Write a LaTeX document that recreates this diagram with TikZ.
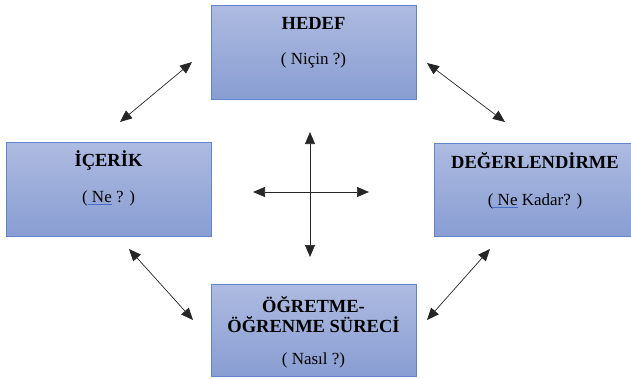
\documentclass[tikz,border=0pt]{standalone}
\usepackage{fontspec}
\setmainfont{Liberation Serif}
\usetikzlibrary{arrows.meta}
\definecolor{boxtop}{RGB}{174,187,225}
\definecolor{boxbot}{RGB}{136,157,210}
\definecolor{boxline}{RGB}{96,132,206}
\definecolor{ulblue}{RGB}{70,110,200}
% blue spell-check style underline
\newcommand\blueul[1]{\setbox0\hbox{#1}\rlap{\color{ulblue}\rule[-3pt]{\wd0}{0.9pt}}\box0\relax}
\begin{document}
\begin{tikzpicture}[x=1pt,y=-1pt,
  stage/.style={draw=boxline, line width=0.8pt, top color=boxtop, bottom color=boxbot,
    inner sep=0pt},
  title/.style={font=\fontsize{18.5}{20}\selectfont\bfseries, align=center, inner sep=0pt},
  sub/.style={font=\fontsize{17}{19}\selectfont, inner sep=0pt},
  link/.style={{Triangle[length=12pt,width=10pt]}-{Triangle[length=12pt,width=10pt]},
    line width=0.7pt, draw=black!85}]
\useasboundingbox (0,0) rectangle (631,378);

% the four stages
\node[stage, minimum width=205pt, minimum height=94pt] (hedef)  at (313.5,52)  {};
\node[stage, minimum width=205pt, minimum height=94pt] (icerik) at (108.5,189) {};
\node[stage, minimum width=202pt, minimum height=93pt] (deger)  at (535,189.5) {};
\node[stage, minimum width=205pt, minimum height=92pt] (surec)  at (313.5,330) {};

% stage texts
\node[title] (hedefT) at (313.5,23.5) {HEDEF};
\node[sub]   (hedefS) at (313.5,60) {( Niçin ?)};
\node[title] (icerikT) at (108.5,160) {İÇERİK};
\node[sub]   (icerikS) at (108.5,198) {(\blueul{ Ne} ? )};
\node[title] (degerT) at (535,161) {DEĞERLENDİRME};
\node[sub]   (degerS) at (535,201) {(\blueul{ Ne} Kadar? )};
\node[title] (surecT) at (313.5,315) {ÖĞRETME-\\ÖĞRENME SÜRECİ};
\node[sub]   (surecS) at (313.5,360) {( Nasıl ?)};

% arrow end points
\coordinate (a1s) at (120,122); \coordinate (a1e) at (192,62);
\coordinate (a2s) at (427,63);  \coordinate (a2e) at (505,122);
\coordinate (a3s) at (129,249); \coordinate (a3e) at (193,320);
\coordinate (a4s) at (490,249); \coordinate (a4e) at (427,320);
\coordinate (up)    at (310,132); \coordinate (down)  at (310,257);
\coordinate (left)  at (253,192); \coordinate (right) at (369,192);

\draw[link] (a1s) -- (a1e);
\draw[link] (a2s) -- (a2e);
\draw[link] (a3s) -- (a3e);
\draw[link] (a4s) -- (a4e);
\draw[link] (up) -- (down);
\draw[link] (left) -- (right);
\end{tikzpicture}
\end{document}
